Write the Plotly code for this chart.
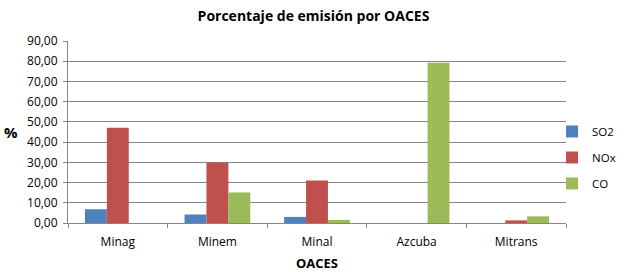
import plotly.graph_objects as go

categories = ["Minag", "Minem", "Minal", "Azcuba", "Mitrans"]
so2 = [6.8, 4.2, 3.0, 0.0, 0.0]
nox = [47.1, 29.9, 21.0, 0.0, 1.3]
co = [0.0, 15.1, 1.5, 79.3, 3.3]
series_names = ["SO2", "NOx", "CO"]
colors = ["#4F81BD", "#C0504D", "#9BBB59"]
y_ticks = [0, 10, 20, 30, 40, 50, 60, 70, 80, 90]

FONT = "Open Sans, Liberation Sans, sans-serif"

fig = go.Figure()
for name, vals, col in zip(series_names, [so2, nox, co], colors):
    fig.add_trace(go.Bar(x=categories, y=vals, name=name, marker_color=col,
                         marker_line_width=0, legendgroup=name))

fig.update_layout(
    width=627, height=272,
    margin=dict(l=68, r=61, t=41, b=49, autoexpand=False),
    paper_bgcolor="white", plot_bgcolor="white",
    barmode="group", bargap=0.34, bargroupgap=0,
    separators=",.",
    font=dict(family=FONT, size=12, color="#000000"),
    title=dict(text="<b>Porcentaje de emisión por OACES</b>", x=0.5, xanchor="center",
               y=0.94, yanchor="middle", font=dict(size=14, family=FONT)),
    legend=dict(x=0.972, xanchor="left", y=0.36, yanchor="middle",
                font=dict(size=11.5), tracegroupgap=7, itemwidth=30,
                bgcolor="rgba(0,0,0,0)"),
    xaxis=dict(showline=True, linecolor="#868686", linewidth=1,
               ticks="outside", tickson="boundaries", ticklen=4, tickcolor="#868686",
               showgrid=False, ticklabelstandoff=8, automargin=False,
               title=dict(text="<b>OACES</b>", font=dict(size=13), standoff=14)),
    yaxis=dict(range=[0, 90], tickvals=y_ticks, tickformat=".2f",
               showline=True, linecolor="#868686", linewidth=1,
               ticks="outside", ticklen=4, tickcolor="#868686",
               showgrid=True, gridcolor="#868686", gridwidth=1,
               zeroline=False, ticklabelstandoff=3, automargin=False),
)

fig.add_annotation(text="<b>%</b>", xref="paper", yref="paper", x=-0.115, y=0.5,
                   xanchor="center", yanchor="middle", showarrow=False,
                   font=dict(size=15, family=FONT))

fig.write_html("out.html")
